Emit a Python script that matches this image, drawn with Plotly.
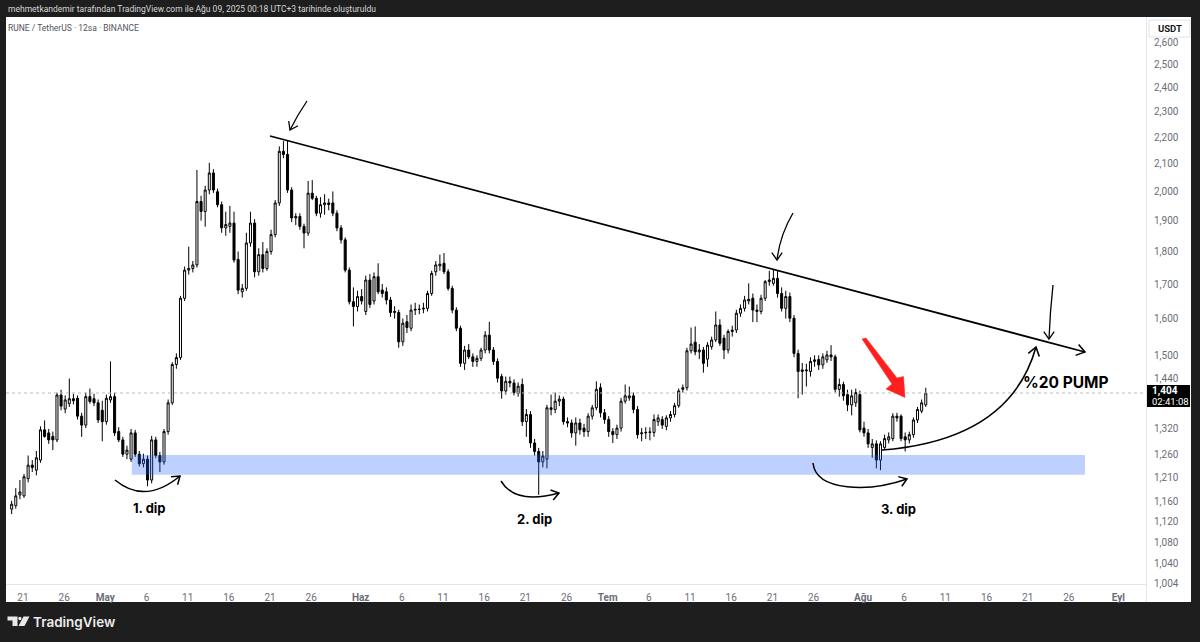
import math
import pandas as pd
import plotly.graph_objects as go

# ---------------- data (12h candles, RUNE/USDT) ----------------
opens = [
    1.145, 1.152, 1.174, 1.172, 1.208, 1.237, 1.226, 1.248, 1.316, 1.309,
    1.301, 1.293, 1.399, 1.365, 1.378, 1.390, 1.391, 1.348, 1.327, 1.395,
    1.390, 1.380, 1.362, 1.335, 1.387, 1.395, 1.312, 1.293, 1.261, 1.250,
    1.309, 1.261, 1.240, 1.250, 1.205, 1.293, 1.258, 1.244, 1.312, 1.380,
    1.476, 1.494, 1.658, 1.742, 1.747, 1.758, 1.965, 1.931, 2.005, 2.066,
    1.999, 1.954, 1.876, 1.881, 1.892, 1.775, 1.677, 1.687, 1.827, 1.892,
    1.737, 1.790, 1.747, 1.800, 1.854, 1.960, 2.146, 2.134, 2.005, 1.909,
    1.914, 1.881, 1.859, 1.994, 1.976, 1.925, 1.954, 1.960, 1.960, 1.925,
    1.876, 1.837, 1.742, 1.648, 1.634, 1.663, 1.620, 1.712, 1.650, 1.722,
    1.682, 1.677, 1.653, 1.617, 1.617, 1.536, 1.591, 1.573, 1.624, 1.626,
    1.627, 1.629, 1.672, 1.737, 1.755, 1.763, 1.737, 1.687, 1.624, 1.573,
    1.479, 1.514, 1.496, 1.484, 1.492, 1.514, 1.554, 1.514, 1.484, 1.445,
    1.409, 1.433, 1.429, 1.403, 1.425, 1.335, 1.352, 1.286, 1.267, 1.244,
    1.250, 1.368, 1.364, 1.384, 1.389, 1.335, 1.332, 1.309, 1.332, 1.320,
    1.312, 1.348, 1.368, 1.417, 1.356, 1.340, 1.312, 1.305, 1.320, 1.384,
    1.392, 1.397, 1.364, 1.307, 1.309, 1.310, 1.310, 1.335, 1.340, 1.324,
    1.344, 1.352, 1.373, 1.413, 1.417, 1.512, 1.535, 1.509, 1.514, 1.490,
    1.523, 1.541, 1.582, 1.546, 1.514, 1.564, 1.568, 1.615, 1.629, 1.650,
    1.658, 1.624, 1.620, 1.658, 1.707, 1.702, 1.717, 1.672, 1.629, 1.663,
    1.601, 1.505, 1.458, 1.462, 1.458, 1.484, 1.489, 1.475, 1.488, 1.501,
    1.496, 1.413, 1.425, 1.400, 1.375, 1.380, 1.400, 1.320, 1.309, 1.276,
    1.284, 1.248, 1.276, 1.293, 1.296, 1.348, 1.348, 1.300, 1.293, 1.305,
    1.339, 1.360, 1.375,
]
highs = [
    1.162, 1.188, 1.205, 1.218, 1.258, 1.248, 1.268, 1.324, 1.338, 1.318,
    1.312, 1.405, 1.412, 1.398, 1.440, 1.402, 1.398, 1.356, 1.405, 1.415,
    1.402, 1.388, 1.385, 1.400, 1.484, 1.405, 1.322, 1.300, 1.280, 1.318,
    1.316, 1.268, 1.262, 1.258, 1.302, 1.300, 1.266, 1.318, 1.388, 1.482,
    1.505, 1.665, 1.753, 1.815, 1.770, 2.077, 1.985, 2.020, 2.103, 2.080,
    2.010, 1.965, 1.930, 1.950, 1.930, 1.800, 1.700, 1.860, 1.930, 1.905,
    1.810, 1.830, 1.810, 1.870, 1.970, 2.165, 2.185, 2.189, 2.015, 1.925,
    1.925, 1.890, 2.037, 2.040, 1.985, 1.980, 1.990, 1.975, 2.000, 1.935,
    1.885, 1.845, 1.750, 1.690, 1.680, 1.685, 1.725, 1.730, 1.735, 1.763,
    1.700, 1.690, 1.662, 1.635, 1.625, 1.600, 1.610, 1.640, 1.645, 1.640,
    1.645, 1.680, 1.740, 1.770, 1.790, 1.795, 1.745, 1.695, 1.632, 1.580,
    1.525, 1.530, 1.505, 1.500, 1.520, 1.565, 1.591, 1.522, 1.492, 1.452,
    1.445, 1.445, 1.438, 1.430, 1.440, 1.365, 1.360, 1.295, 1.275, 1.268,
    1.375, 1.400, 1.405, 1.398, 1.395, 1.345, 1.340, 1.345, 1.342, 1.330,
    1.355, 1.375, 1.433, 1.428, 1.365, 1.348, 1.320, 1.328, 1.392, 1.425,
    1.420, 1.405, 1.372, 1.320, 1.322, 1.322, 1.352, 1.352, 1.348, 1.350,
    1.360, 1.380, 1.415, 1.425, 1.520, 1.575, 1.578, 1.530, 1.522, 1.535,
    1.550, 1.620, 1.598, 1.555, 1.570, 1.580, 1.625, 1.640, 1.665, 1.702,
    1.672, 1.640, 1.668, 1.712, 1.740, 1.745, 1.742, 1.690, 1.680, 1.675,
    1.610, 1.515, 1.480, 1.478, 1.495, 1.500, 1.500, 1.505, 1.512, 1.527,
    1.502, 1.440, 1.432, 1.412, 1.412, 1.415, 1.410, 1.335, 1.318, 1.295,
    1.292, 1.290, 1.305, 1.310, 1.355, 1.356, 1.352, 1.310, 1.312, 1.345,
    1.370, 1.388, 1.417,
]
lows = [
    1.135, 1.146, 1.165, 1.168, 1.200, 1.222, 1.215, 1.242, 1.298, 1.284,
    1.270, 1.288, 1.362, 1.355, 1.370, 1.376, 1.340, 1.300, 1.320, 1.378,
    1.372, 1.332, 1.290, 1.328, 1.380, 1.302, 1.288, 1.255, 1.250, 1.244,
    1.255, 1.234, 1.232, 1.192, 1.198, 1.252, 1.222, 1.238, 1.305, 1.375,
    1.465, 1.488, 1.650, 1.728, 1.735, 1.750, 1.900, 1.880, 1.990, 1.995,
    1.945, 1.860, 1.850, 1.860, 1.765, 1.670, 1.660, 1.680, 1.815, 1.720,
    1.725, 1.735, 1.740, 1.790, 1.845, 1.950, 2.120, 1.995, 1.895, 1.885,
    1.870, 1.810, 1.850, 1.970, 1.915, 1.910, 1.920, 1.935, 1.915, 1.865,
    1.825, 1.735, 1.640, 1.578, 1.620, 1.640, 1.610, 1.630, 1.640, 1.670,
    1.660, 1.640, 1.605, 1.600, 1.520, 1.525, 1.560, 1.565, 1.610, 1.612,
    1.615, 1.620, 1.665, 1.725, 1.740, 1.730, 1.680, 1.615, 1.565, 1.470,
    1.462, 1.490, 1.470, 1.470, 1.485, 1.505, 1.505, 1.475, 1.430, 1.390,
    1.400, 1.418, 1.398, 1.395, 1.325, 1.300, 1.275, 1.258, 1.174, 1.232,
    1.230, 1.350, 1.355, 1.372, 1.328, 1.322, 1.298, 1.280, 1.305, 1.300,
    1.300, 1.340, 1.362, 1.345, 1.330, 1.300, 1.286, 1.295, 1.312, 1.378,
    1.385, 1.355, 1.296, 1.290, 1.295, 1.292, 1.300, 1.325, 1.318, 1.315,
    1.335, 1.345, 1.368, 1.405, 1.410, 1.505, 1.500, 1.490, 1.455, 1.470,
    1.515, 1.535, 1.525, 1.490, 1.505, 1.550, 1.560, 1.605, 1.620, 1.640,
    1.590, 1.590, 1.612, 1.650, 1.695, 1.695, 1.660, 1.620, 1.600, 1.590,
    1.495, 1.391, 1.400, 1.420, 1.445, 1.470, 1.462, 1.465, 1.480, 1.485,
    1.405, 1.395, 1.385, 1.360, 1.350, 1.370, 1.310, 1.300, 1.275, 1.253,
    1.230, 1.226, 1.270, 1.285, 1.290, 1.335, 1.290, 1.267, 1.285, 1.298,
    1.332, 1.355, 1.370,
]
closes = [
    1.155, 1.172, 1.180, 1.212, 1.237, 1.232, 1.253, 1.316, 1.301, 1.293,
    1.293, 1.399, 1.372, 1.387, 1.390, 1.385, 1.348, 1.327, 1.395, 1.383,
    1.380, 1.339, 1.335, 1.391, 1.395, 1.309, 1.293, 1.261, 1.270, 1.309,
    1.261, 1.240, 1.250, 1.205, 1.293, 1.258, 1.244, 1.312, 1.380, 1.476,
    1.494, 1.658, 1.742, 1.747, 1.758, 1.965, 1.931, 2.005, 2.066, 2.005,
    1.954, 1.876, 1.887, 1.892, 1.773, 1.682, 1.687, 1.827, 1.892, 1.737,
    1.790, 1.747, 1.800, 1.854, 1.960, 2.146, 2.134, 2.005, 1.909, 1.914,
    1.881, 1.859, 1.994, 1.976, 1.925, 1.954, 1.960, 1.955, 1.925, 1.876,
    1.837, 1.742, 1.648, 1.634, 1.663, 1.650, 1.712, 1.640, 1.722, 1.677,
    1.672, 1.653, 1.617, 1.620, 1.536, 1.587, 1.575, 1.624, 1.626, 1.626,
    1.629, 1.672, 1.732, 1.758, 1.760, 1.737, 1.687, 1.624, 1.573, 1.479,
    1.514, 1.496, 1.484, 1.492, 1.514, 1.554, 1.514, 1.484, 1.441, 1.409,
    1.433, 1.429, 1.405, 1.421, 1.335, 1.352, 1.286, 1.267, 1.244, 1.257,
    1.368, 1.364, 1.384, 1.389, 1.335, 1.332, 1.309, 1.332, 1.316, 1.312,
    1.348, 1.368, 1.413, 1.356, 1.340, 1.312, 1.305, 1.320, 1.384, 1.397,
    1.397, 1.364, 1.305, 1.309, 1.310, 1.311, 1.340, 1.344, 1.327, 1.344,
    1.352, 1.373, 1.409, 1.417, 1.512, 1.530, 1.509, 1.514, 1.479, 1.527,
    1.541, 1.582, 1.532, 1.514, 1.564, 1.568, 1.615, 1.629, 1.653, 1.655,
    1.624, 1.620, 1.658, 1.707, 1.712, 1.717, 1.672, 1.629, 1.663, 1.601,
    1.505, 1.458, 1.462, 1.460, 1.484, 1.488, 1.475, 1.496, 1.501, 1.496,
    1.413, 1.425, 1.397, 1.375, 1.397, 1.405, 1.316, 1.309, 1.284, 1.284,
    1.248, 1.284, 1.296, 1.300, 1.348, 1.344, 1.296, 1.293, 1.305, 1.339,
    1.364, 1.380, 1.404,
]
first_candle = "2025-04-19 15:00"
dates = pd.date_range(first_candle, periods=len(closes), freq="12h")

tick_dates = ["2025-04-21", "2025-04-26", "2025-05-01", "2025-05-06", "2025-05-11",
              "2025-05-16", "2025-05-21", "2025-05-26", "2025-06-01", "2025-06-06",
              "2025-06-11", "2025-06-16", "2025-06-21", "2025-06-26", "2025-07-01",
              "2025-07-06", "2025-07-11", "2025-07-16", "2025-07-21", "2025-07-26",
              "2025-08-01", "2025-08-06", "2025-08-11", "2025-08-16", "2025-08-21",
              "2025-08-26", "2025-09-01"]
tick_text = ["21", "26", "<b>May</b>", "6", "11", "16", "21", "26", "<b>Haz</b>", "6",
             "11", "16", "21", "26", "<b>Tem</b>", "6", "11", "16", "21", "26",
             "<b>Ağu</b>", "6", "11", "16", "21", "26", "<b>Eyl</b>"]
price_ticks = [2.6, 2.5, 2.4, 2.3, 2.2, 2.1, 2.0, 1.9, 1.8, 1.7, 1.6, 1.5, 1.44,
               1.32, 1.26, 1.21, 1.16, 1.12, 1.08, 1.04, 1.004]
price_text = ["2,600", "2,500", "2,400", "2,300", "2,200", "2,100", "2,000", "1,900",
              "1,800", "1,700", "1,600", "1,500", "1,440", "1,320", "1,260", "1,210",
              "1,160", "1,120", "1,080", "1,040", "1,004"]
last_price = 1.404
last_price_text = "1,404"
countdown_text = "02:41:08"
zone_low, zone_high = 1.216, 1.259
zone_start, zone_end = "2025-05-04 05:00", "2025-08-27 23:00"
x_range = ["2025-04-18 22:30", "2025-09-04 08:50"]
y_range = [1.00397, 2.7167]

# ---------------- helpers: pixel -> paper (for drawings) ----------------
L, R, T, B = 6, 1146, 17, 584
def X(px):
    return (px - L) / (R - L)
def Y(py):
    return (B - py) / (B - T)
def P(px, py):
    return f"{X(px):.5f},{Y(py):.5f}"

FONT = "Roboto"
fig = go.Figure()

fig.add_trace(go.Candlestick(
    x=dates, open=opens, high=highs, low=lows, close=closes,
    increasing=dict(line=dict(color="#000000", width=1), fillcolor="#ffffff"),
    decreasing=dict(line=dict(color="#000000", width=1), fillcolor="#000000"),
    whiskerwidth=0, hoverinfo="skip", showlegend=False,
))

# support zone
fig.add_trace(go.Scatter(
    x=[zone_start, zone_end, zone_end, zone_start, zone_start],
    y=[zone_low, zone_low, zone_high, zone_high, zone_low],
    fill="toself", fillcolor="rgba(41,98,255,0.30)", mode="lines",
    line=dict(width=0), hoverinfo="skip", showlegend=False,
))

# last price dotted line
fig.add_trace(go.Scatter(
    x=x_range, y=[last_price, last_price], mode="lines",
    line=dict(color="#b8bbc4", width=1, dash="dot"),
    hoverinfo="skip", showlegend=False,
))

shapes = []
# white panel
shapes.append(dict(type="rect", xref="paper", yref="paper", x0=X(6), x1=X(1191),
                   y0=Y(602), y1=Y(17), fillcolor="#ffffff", line=dict(width=0),
                   layer="below"))
# axis separators
shapes.append(dict(type="line", xref="paper", yref="paper", x0=X(6), x1=X(1146),
                   y0=Y(584.5), y1=Y(584.5), line=dict(color="#e0e3eb", width=1)))
shapes.append(dict(type="line", xref="paper", yref="paper", x0=X(1146.5), x1=X(1146.5),
                   y0=Y(602), y1=Y(17), line=dict(color="#e0e3eb", width=1)))
# USDT box
shapes.append(dict(type="rect", xref="paper", yref="paper", x0=X(1149), x1=X(1190),
                   y0=Y(37), y1=Y(20), fillcolor="#ffffff",
                   line=dict(color="#e0e3eb", width=1)))
# last price box
shapes.append(dict(type="rect", xref="paper", yref="paper", x0=X(1147), x1=X(1190),
                   y0=Y(407), y1=Y(385), fillcolor="#000000", line=dict(width=0)))

def path_shape(path, color="#000000", width=1.5, fill=None):
    d = dict(type="path", xref="paper", yref="paper", path=path,
             line=dict(color=color, width=width))
    if fill:
        d["fillcolor"] = fill
    return d

# trend line + arrow head
shapes.append(path_shape(f"M {P(270,136)} L {P(1085,352)}", width=1.8))
shapes.append(path_shape(f"M {P(1078.6,344.4)} L {P(1085,352)} L {P(1075.6,355.4)}", width=1.5))
# hand arrows pointing at touches
shapes.append(path_shape(f"M {P(307,101)} Q {P(298,114)} {P(290,130)}", width=1.3))
shapes.append(path_shape(f"M {P(288.7,121)} L {P(290,130)} L {P(298,125.7)}", width=1.3))
shapes.append(path_shape(f"M {P(793,213)} Q {P(780,235)} {P(777,260)}", width=1.3))
shapes.append(path_shape(f"M {P(771.8,252.6)} L {P(777,260)} L {P(782.2,252.6)}", width=1.3))
shapes.append(path_shape(f"M {P(1053,285)} Q {P(1050,312)} {P(1049,339)}", width=1.3))
shapes.append(path_shape(f"M {P(1043.8,331.6)} L {P(1049,339)} L {P(1054.2,331.6)}", width=1.3))
# pump curve
shapes.append(path_shape(f"M {P(882,450)} Q {P(1010,440)} {P(1036,347)}", width=1.6))
shapes.append(path_shape(f"M {P(1028.3,353.3)} L {P(1036,347)} L {P(1039.3,356.4)}", width=1.6))
# dip curves
shapes.append(path_shape(f"M {P(115,480)} Q {P(145,505)} {P(180,476)}", width=1.5))
shapes.append(path_shape(f"M {P(171,476.7)} L {P(180,476)} L {P(177.6,484.7)}", width=1.5))
shapes.append(path_shape(f"M {P(501,481)} Q {P(515,505)} {P(559,493)}", width=1.5))
shapes.append(path_shape(f"M {P(550.5,490)} L {P(559,493)} L {P(553.2,499.9)}", width=1.5))
shapes.append(path_shape(f"M {P(813,463)} C {P(816,492)} {P(870,492)} {P(907,479)}", width=1.5))
shapes.append(path_shape(f"M {P(898.3,476.6)} L {P(907,479)} L {P(901.8,486.3)}", width=1.5))
# red arrow
shapes.append(path_shape(
    f"M {P(862,339)} L {P(866,338)} L {P(897,378)} L {P(903.5,376.5)} L {P(905,397.5)} "
    f"L {P(886,389)} L {P(892,384)} Z", color="#ff1f1f", width=0.5, fill="#ff1f1f"))

# TradingView logo icon
shapes.append(dict(type="path", xref="paper", yref="paper",
                   path=f"M {P(7.5,616.5)} L {P(17.5,616.5)} L {P(17.5,626)} L {P(12.5,626)} "
                        f"L {P(12.5,620.5)} L {P(7.5,620.5)} Z",
                   fillcolor="#e8e8e8", line=dict(width=0)))
shapes.append(dict(type="circle", xref="paper", yref="paper", x0=X(18.2), x1=X(21.6),
                   y0=Y(620.3), y1=Y(616.7), fillcolor="#e8e8e8", line=dict(width=0)))
shapes.append(dict(type="path", xref="paper", yref="paper",
                   path=f"M {P(23.5,616.5)} L {P(29.5,616.5)} L {P(24.5,626)} L {P(18.5,626)} Z",
                   fillcolor="#e8e8e8", line=dict(width=0)))

ann = []
def text(px, py, s, size=10, color="#000000", anchor="left", weight="normal",
         family=FONT, valign="middle"):
    ann.append(dict(x=X(px), y=Y(py), xref="paper", yref="paper", text=s,
                    showarrow=False, xanchor=anchor, yanchor=valign,
                    font=dict(family=family, size=size, color=color, weight=weight)))

text(6, 9, "mehmetkandemir tarafından TradingView.com ile Ağu 09, 2025 00:18 UTC+3 tarihinde oluşturuldu",
     size=8.5, color="#d6d6d6")
text(6, 28, "RUNE / TetherUS · 12sa · BINANCE", size=8.5, color="#50535e")
text(1169.5, 28.5, "USDT", size=9.5, color="#131722", anchor="center", weight="bold")
text(1150, 391, last_price_text, size=10, color="#ffffff", weight="bold")
text(1150, 401.5, countdown_text, size=9.5, color="#ffffff")
text(149, 507.5, "1. dip", size=13, weight="bold", anchor="center", family="Inter")
text(534, 519, "2. dip", size=13, weight="bold", anchor="center", family="Inter")
text(898, 508.5, "3. dip", size=13, weight="bold", anchor="center", family="Inter")
text(1021, 382, "%20 PUMP", size=15.5, weight="bold", family="Inter")
text(31, 621.5, "TradingView", size=13.5, color="#ececec", weight=600, family="Inter")

fig.update_layout(
    width=1200, height=642,
    margin=dict(l=L, r=1200 - R, t=T, b=642 - B),
    paper_bgcolor="#1e1e1e", plot_bgcolor="#ffffff",
    showlegend=False, shapes=shapes, annotations=ann,
    font=dict(family=FONT, size=10, color="#6a6d78"),
    hovermode=False,
)
fig.update_xaxes(
    type="date", range=x_range, rangeslider=dict(visible=False),
    tickmode="array", tickvals=tick_dates, ticktext=tick_text,
    showgrid=False, zeroline=False, showline=False,
    ticks="outside", ticklen=4, tickcolor="rgba(0,0,0,0)",
    tickfont=dict(family=FONT, size=10, color="#6a6d78"), fixedrange=True,
)
fig.update_yaxes(
    type="log", range=[math.log10(y_range[0]), math.log10(y_range[1])], side="right",
    tickmode="array", tickvals=price_ticks, ticktext=price_text,
    showgrid=False, zeroline=False, showline=False,
    ticks="outside", ticklen=5, tickcolor="rgba(0,0,0,0)",
    tickfont=dict(family=FONT, size=10, color="#6a6d78"), fixedrange=True,
)

fig.write_html("out.html", config={"displayModeBar": False},
               post_script="document.body.style.margin='0';document.body.style.overflow='hidden';")
